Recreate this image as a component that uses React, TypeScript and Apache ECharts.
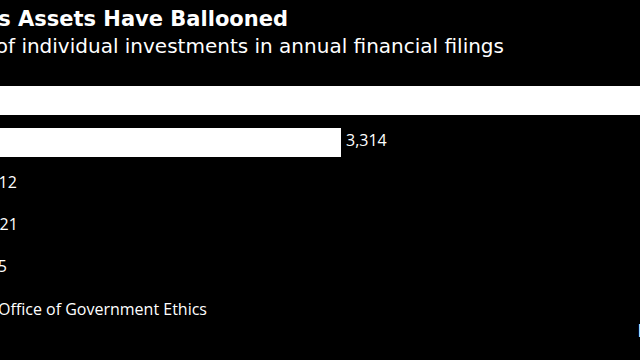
import React, { useEffect, useRef } from "react";
import * as echarts from "echarts";

// Data (the reference is a crop: category names and the first bar's end are off-screen)
const categories = ["2019", "2018", "2017", "2016", "2015"];
const values = [6500, 3314, 12, 21, 5];

const titleText = "Trump's Assets Have Ballooned";
const subtitleText = "Number of individual investments in annual financial filings";
const sourceText = "Source: U.S. Office of Government Ethics";
const logoText = "Bloomberg";

const SHIFT = 200; // the chart canvas starts this many px left of the visible window
const AXIS_MAX = 7000;
const PX_PER_UNIT = 0.10522;

export default function App() {
  const ref = useRef<HTMLDivElement>(null);

  useEffect(() => {
    if (!ref.current) return;
    const chart = echarts.init(ref.current, undefined, { renderer: "svg" });
    chart.setOption({
      animation: false,
      backgroundColor: "#000",
      grid: {
        left: SHIFT - 7.7,
        top: 79.5,
        width: AXIS_MAX * PX_PER_UNIT,
        height: 210,
      },
      xAxis: {
        type: "value",
        min: 0,
        max: AXIS_MAX,
        show: false,
        splitLine: { show: false },
      },
      yAxis: {
        type: "category",
        data: categories,
        inverse: true,
        show: false,
      },
      series: [
        {
          type: "bar",
          data: values,
          barWidth: 29,
          itemStyle: { color: "#ffffff" },
          label: {
            show: true,
            position: "right",
            distance: 5,
            offset: [0, -2.5],
            color: "#ffffff",
            fontSize: 16,
            fontFamily: "Open Sans",
            formatter: (p: any) => Number(p.value).toLocaleString("en-US"),
          },
        },
      ],
      graphic: [
        {
          type: "text",
          x: SHIFT + 288,
          y: 18.5,
          style: {
            text: titleText,
            fill: "#ffffff",
            font: "bold 21px 'DejaVu Sans'",
            textAlign: "right",
            textVerticalAlign: "middle",
          },
        },
        {
          type: "text",
          x: SHIFT + 504,
          y: 46,
          style: {
            text: subtitleText,
            fill: "#ffffff",
            font: "20px 'DejaVu Sans'",
            textAlign: "right",
            textVerticalAlign: "middle",
          },
        },
        {
          type: "text",
          x: SHIFT + 207,
          y: 309,
          style: {
            text: sourceText,
            fill: "#ffffff",
            font: "16px 'Open Sans'",
            textAlign: "right",
            textVerticalAlign: "middle",
          },
        },
        {
          type: "text",
          x: SHIFT + 638,
          y: 331,
          style: {
            text: logoText,
            fill: "#ffffff",
            font: "bold 18px 'Liberation Sans'",
            textAlign: "left",
            textVerticalAlign: "middle",
          },
        },
      ],
    });
    return () => chart.dispose();
  }, []);

  return (
    <div
      style={{
        position: "fixed",
        left: 0,
        top: 0,
        width: 640,
        height: 360,
        overflow: "hidden",
        background: "#000",
      }}
    >
      <div
        ref={ref}
        style={{ position: "absolute", left: -SHIFT, top: 0, width: 1100, height: 360 }}
      />
    </div>
  );
}
